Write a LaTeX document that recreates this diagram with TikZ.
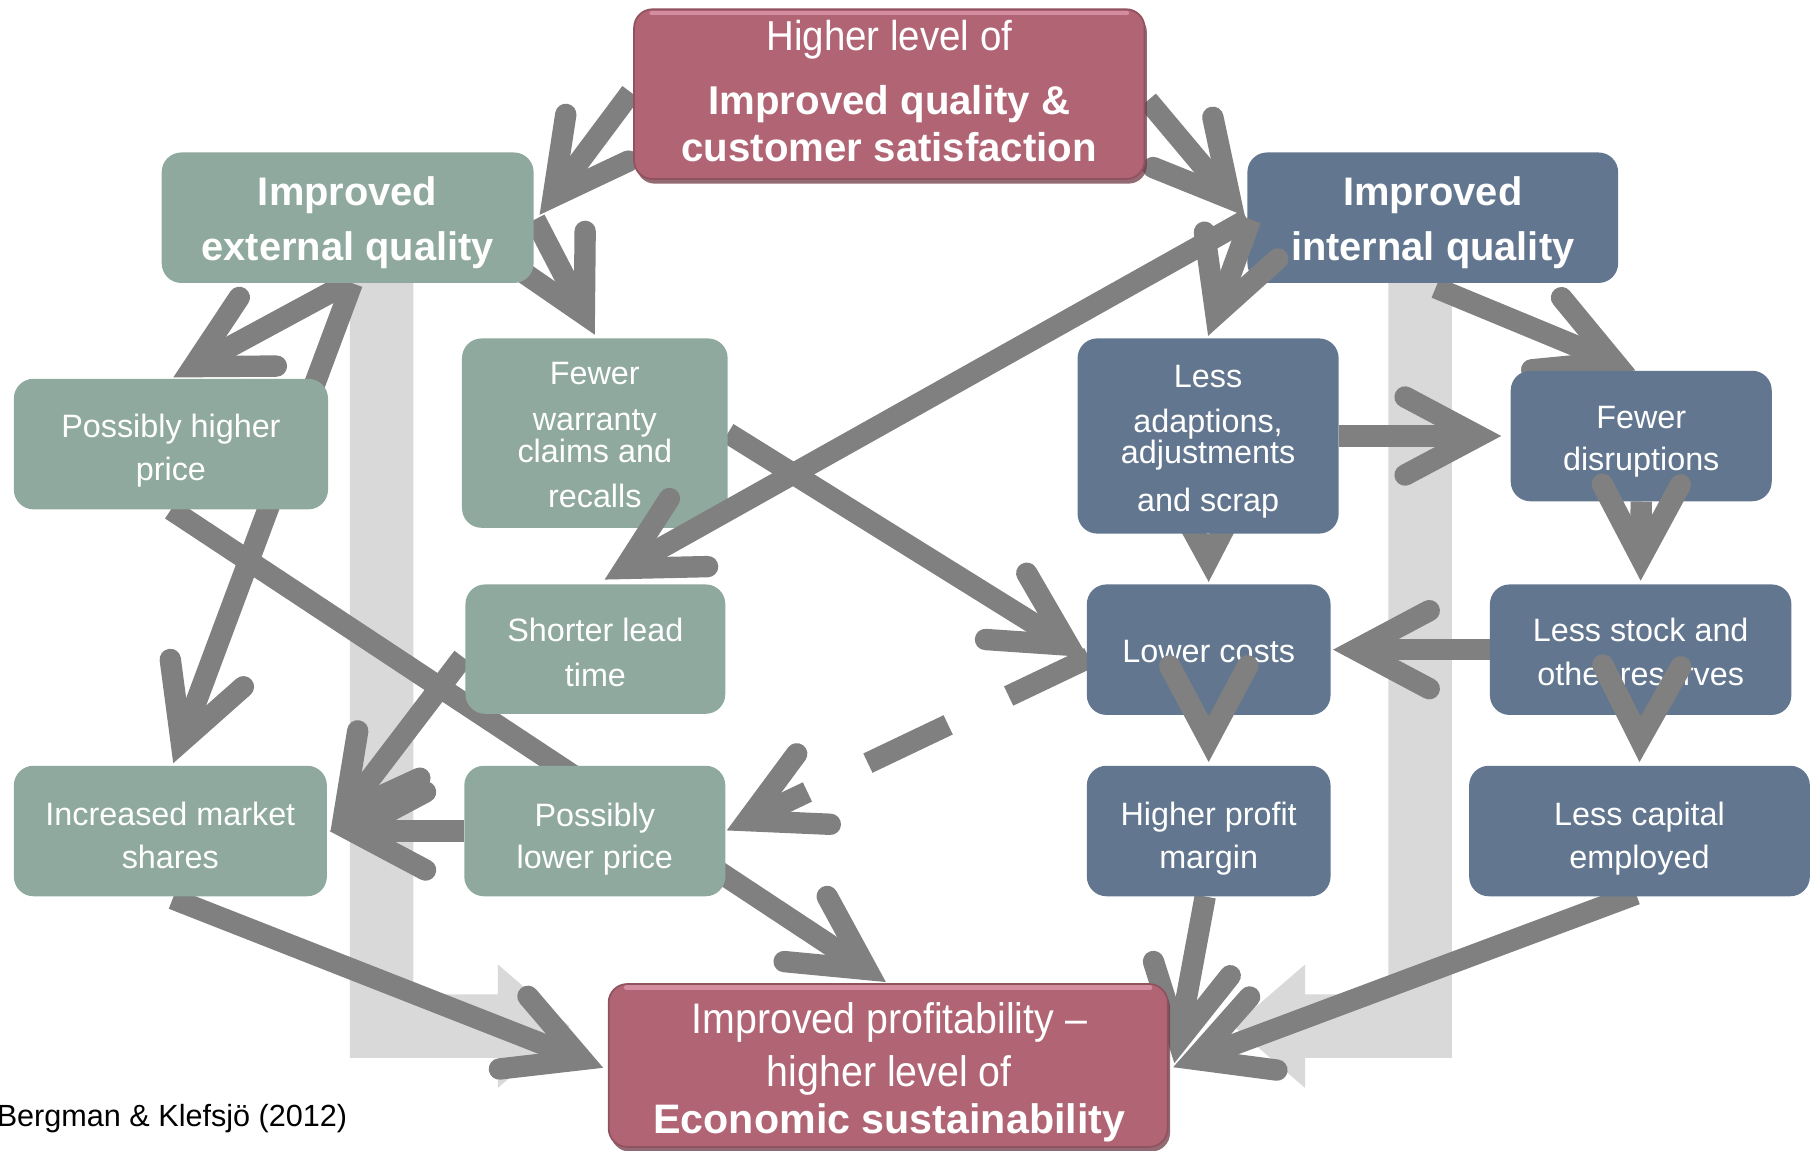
\documentclass[tikz,border=0pt]{standalone}
\usepackage{fontspec}
\setmainfont{Liberation Sans}
\newfontfamily\condfont[FakeStretch=0.92]{Liberation Sans}
\usetikzlibrary{calc,shadows}
\pgfdeclarelayer{bgbars}
\pgfdeclarelayer{bgarrows}
\pgfdeclarelayer{fg}
\pgfsetlayers{bgbars,bgarrows,main,fg}
\definecolor{gboxc}{HTML}{8FA99F}
\definecolor{bboxc}{HTML}{62778F}
\definecolor{pboxc}{HTML}{B06474}
\definecolor{arrc}{HTML}{808080}
\definecolor{lgrayc}{HTML}{D9D9D9}
\definecolor{pshadc}{HTML}{6E3844}
\definecolor{phighc}{HTML}{D992A4}
\tikzset{
  boxbase/.style={rectangle, rounded corners=17pt, inner sep=0pt, draw=none},
  gbx/.style={boxbase, fill=gboxc},
  bbx/.style={boxbase, fill=bboxc},
  pbx/.style={rectangle, rounded corners=16pt, inner sep=0pt, fill=pboxc,
    draw=pboxc!82!black, line width=1.5pt,
    drop shadow={shadow xshift=2pt, shadow yshift=-4pt, fill=pshadc, opacity=0.75}},
  phl/.style={draw=phighc, line width=4pt, line cap=round, opacity=0.9},
  txt/.style={text=white, align=center, inner sep=0pt, font=\fontsize{28}{36.6}\selectfont},
  ttl/.style={text=white, align=center, inner sep=0pt, font=\fontsize{34.5}{47.6}\selectfont\bfseries},
  ptop/.style={text=white, inner sep=0pt, font=\condfont\fontsize{36.2}{42}\selectfont},
  ptopb/.style={text=white, inner sep=0pt, font=\fontsize{34.8}{40}\selectfont\bfseries},
  pbot/.style={text=white, inner sep=0pt, font=\condfont\fontsize{37}{44}\selectfont},
  pbotb/.style={text=white, inner sep=0pt, font=\fontsize{35.7}{44}\selectfont\bfseries},
  shaftline/.style={draw=arrc, line width=18.5pt, line cap=butt},
  barbline/.style={draw=arrc, line width=18.5pt, line cap=round, line join=miter},
  bgarrow/.style={fill=lgrayc, draw=none},
}
\newcommand{\qconn}[3][]{%
  \path (#2) coordinate (cS);
  \path (#3) coordinate (cE);
  \path ($(cE)!19.7pt!(cS)$) coordinate (cT);
  \draw[shaftline,#1] (cS) -- (cT);
  \draw[barbline] ($(cT)!72pt!28:(cS)$) -- (cT) -- ($(cT)!72pt!-28:(cS)$);
}
\begin{document}
\begin{tikzpicture}[x=1pt,y=-1pt]
\useasboundingbox (0,0) rectangle (1568,995.7);

% ---------- pink boxes (front layer)
\begin{pgfonlayer}{fg}
\node[pbx, minimum width=442pt, minimum height=147pt] (pinkTop) at (770,81.5) {};
\draw[phl] ([shift={(16,4)}]pinkTop.north west) -- ([shift={(-16,4)}]pinkTop.north east);
\node[ptop, anchor=base] (pinkTop-1) at (770,44) {Higher level of};
\node[ptopb, anchor=base] (pinkTop-2) at (770,99.5) {Improved quality \&};
\node[ptopb, anchor=base] (pinkTop-3) at (770,139.5) {customer satisfaction};
\node[pbx, minimum width=484pt, minimum height=141pt] (pinkBot) at (769,922.5) {};
\draw[phl] ([shift={(16,4)}]pinkBot.north west) -- ([shift={(-16,4)}]pinkBot.north east);
\node[pbot, anchor=base] (pinkBot-1) at (770,895) {Improved profitability –};
\node[pbot, anchor=base] (pinkBot-2) at (770,941) {higher level of};
\node[pbotb, anchor=base] (pinkBot-3) at (770,981) {Economic sustainability};
\end{pgfonlayer}

% ---------- boxes
\node[gbx, minimum width=322pt, minimum height=113pt] (ext) at (301,188.5) {};
\node[bbx, minimum width=321pt, minimum height=113pt] (int) at (1240.5,188.5) {};
\node[gbx, minimum width=272pt, minimum height=113pt] (phigh) at (148,384.5) {};
\node[gbx, minimum width=230pt, minimum height=164pt] (fwar) at (515,375) {};
\node[bbx, minimum width=226pt, minimum height=169pt] (ladapt) at (1046,377.5) {};
\node[bbx, minimum width=226pt, minimum height=113pt] (fdis) at (1421,377.5) {};
\node[gbx, minimum width=225pt, minimum height=112pt] (slead) at (515.5,562) {};
\node[bbx, minimum width=211pt, minimum height=113pt] (lcost) at (1046.5,562.5) {};
\node[bbx, minimum width=261pt, minimum height=113pt] (lstock) at (1420.5,562.5) {};
\node[gbx, minimum width=271pt, minimum height=113pt] (imkt) at (147.5,719.5) {};
\node[gbx, minimum width=226pt, minimum height=113pt] (plow) at (515,719.5) {};
\node[bbx, minimum width=211pt, minimum height=113pt] (hprof) at (1046.5,719.5) {};
\node[bbx, minimum width=295pt, minimum height=113pt] (lcap) at (1419.5,719.5) {};

\node[ttl] (ext-t) at (301,192.9) {Improved\\external quality};
\node[ttl] (int-t) at (1240.5,192.9) {Improved\\internal quality};
\node[txt] (phigh-t) at (148,390.2) {Possibly higher\\price};
\node[txt, font=\fontsize{28}{28}\selectfont] (fwar-t) at (515,376.6) {Fewer\\[12pt]warranty\\claims and\\[11pt]recalls};
\node[txt, font=\fontsize{28}{27}\selectfont] (ladapt-t) at (1046,382.4) {Less\\[12pt]adaptions,\\adjustments\\[14pt]and scrap};
\node[txt, font=\fontsize{28}{36.5}\selectfont] (fdis-t) at (1421,382.7) {Fewer\\disruptions};
\node[txt, font=\fontsize{28}{39.5}\selectfont] (slead-t) at (515.5,564.9) {Shorter lead\\time};
\node[txt] (lcost-t) at (1046.5,564.1) {Lower costs};
\node[txt, font=\fontsize{28}{38}\selectfont] (lstock-t) at (1420.5,564.1) {Less stock and\\other reserves};
\node[txt] (imkt-t) at (147.5,723.4) {Increased market\\shares};
\node[txt] (plow-t) at (515,726.3) {Possibly\\lower price};
\node[txt] (hprof-t) at (1046.5,726) {Higher profit\\margin};
\node[txt] (lcap-t) at (1419.5,726.2) {Less capital\\employed};

\node[anchor=base west, inner sep=0pt, text=black, font=\fontsize{26.5}{30}\selectfont] (src) at (-3,975) {Bergman \& Klefsjö (2012)};

% ---------- arrows behind the boxes
\begin{pgfonlayer}{bgarrows}
\qconn{[shift={(-2,-1.5)}]pinkTop.west}{[shift={(5,-2.5)}]ext.east}
\qconn{[shift={(2,5.5)}]pinkTop.east}{[shift={(-2,-1.5)}]int.west}
\qconn{[shift={(1,1.5)}]ext.east}{[shift={(0,-3)}]fwar.north}
\qconn{ext.south}{[shift={(2,-1)}]phigh.north}
\qconn{[shift={(4,0)}]ext.south}{[shift={(2.5,-2)}]imkt.north}
\qconn{fwar.east}{[shift={(1,6.5)}]lcost.west}
\qconn[dash pattern=on 77pt off 58pt]{[shift={(2,7)}]lcost.west}{[shift={(1,-0.5)}]plow.east}
\qconn{ladapt.east}{[shift={(-8,0)}]fdis.west}
\qconn{[shift={(2.5,4)}]int.south}{[shift={(-5,0)}]fdis.north}
\qconn{ladapt.south}{[shift={(0,-2)}]lcost.north}
\qconn{lstock.west}{[shift={(2,0)}]lcost.east}
\qconn{phigh.south}{[shift={(-2,-1)}]pinkBot.north}
\qconn{[shift={(2,2)}]imkt.south}{[shift={(-4,2)}]pinkBot.west}
\qconn{[shift={(-3,0)}]hprof.south}{[shift={(5,-2)}]pinkBot.east}
\qconn{[shift={(-3,-2)}]lcap.south}{[shift={(4,1.5)}]pinkBot.east}
\qconn{plow.west}{[shift={(2,0)}]imkt.east}
\qconn{[shift={(-2,7)}]slead.west}{[shift={(3,0)}]imkt.east}
\end{pgfonlayer}

% ---------- arrows drawn over the boxes
\qconn{[shift={(3,1.5)}]int.west}{[shift={(0,-2)}]ladapt.north}
\qconn{[shift={(0,1.5)}]int.west}{[shift={(8,-4)}]slead.north}
\qconn{fdis.south}{[shift={(0,-3)}]lstock.north}
\qconn{lcost.south}{[shift={(0,-3)}]hprof.north}
\qconn{lstock.south}{[shift={(0,-3)}]lcap.north}

% ---------- light grey block arrows
\begin{pgfonlayer}{bgbars}
\fill[bgarrow] (303,240) -- (358,240) -- (358,861) -- (431,861) -- (431,835)
  -- (493,888.5) -- (431,942) -- (431,916) -- (303,916) -- cycle;
\fill[bgarrow] (1257,240) -- (1202,240) -- (1202,861) -- (1130,861) -- (1130,835)
  -- (1068,888.5) -- (1130,942) -- (1130,916) -- (1257,916) -- cycle;
\end{pgfonlayer}
\end{tikzpicture}
\end{document}
